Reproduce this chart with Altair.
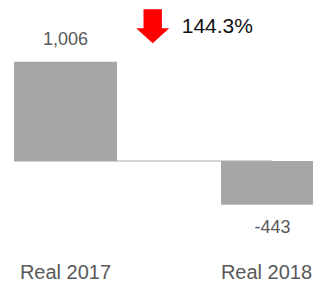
import altair as alt
import pandas as pd

categories = ["Real 2017", "Real 2018"]
values = [1006, -443]
value_labels = ["1,006", "-443"]
change_label = ["144.3%"]

df = pd.DataFrame({"cat": categories, "val": values, "lbl": value_labels})
FONT = "Liberation Sans"
BAR = "#a6a6a6"

xscale = alt.Scale(domain=categories, range=[6, 316], paddingInner=0.5024, paddingOuter=0)
yscale = alt.Scale(domain=[-901.7, 1550.2], nice=False, zero=False)

xaxis = alt.Axis(title=None, domain=False, ticks=False, tickSize=0, labelAngle=0,
                 labelFont=FONT, labelFontSize=20, labelColor="#595959",
                 labelPadding=12.5, grid=False,
                 labelOffset={"condition": {"test": "datum.value == 'Real 2018'", "value": -6}, "value": 0})
x = alt.X("cat:N", scale=xscale, sort=categories, axis=xaxis)
y = alt.Y("val:Q", scale=yscale, axis=None)

base = alt.Chart(df)

rule = base.transform_filter(alt.datum.cat == "Real 2017").transform_calculate(zero="0").mark_rule(
    color="#aaaaaa", strokeWidth=1
).encode(
    x=alt.X("cat:N", scale=xscale, sort=categories, bandPosition=0, axis=xaxis),
    x2=alt.value(264),
    y=alt.Y("zero:Q", scale=yscale, axis=None),
)

bars = base.mark_bar(color=BAR).encode(
    x=x,
    y=y,
    y2=alt.datum(0),
)

pos_text = base.transform_filter(alt.datum.val >= 0).mark_text(
    font=FONT, fontSize=18, color="#595959", baseline="alphabetic", dy=-17
).encode(x=x, y=y, text="lbl:N")

neg_text = base.transform_filter(alt.datum.val < 0).mark_text(
    font=FONT, fontSize=18, color="#595959", baseline="alphabetic", dy=28.5
).encode(x=x, y=y, text="lbl:N")

arrow_path = "M-0.557,-1.03 L0.557,-1.03 L0.557,0.12 L1,0.12 L0,1.03 L-1,0.12 L-0.557,0.12 Z"
ann = pd.DataFrame({"t": change_label})
arrow = alt.Chart(ann).mark_point(
    shape=arrow_path, filled=True, fill="#ff0000", strokeWidth=0, opacity=1, size=1089
).encode(x=alt.value(144.7), y=alt.value(18.3))

pct = alt.Chart(ann).mark_text(
    font=FONT, fontSize=21, color="#111111", align="left", baseline="alphabetic"
).encode(x=alt.value(173.7), y=alt.value(25.3), text="t:N")

chart = alt.layer(rule, bars, pos_text, neg_text, arrow, pct).properties(
    width=305, height=242,
    autosize=alt.AutoSizeParams(type="none"),
    padding={"left": 0, "top": 0, "right": 0, "bottom": 33},
).configure_view(stroke=None)

chart.save("out.html", embed_options={"renderer": "svg", "actions": False})
